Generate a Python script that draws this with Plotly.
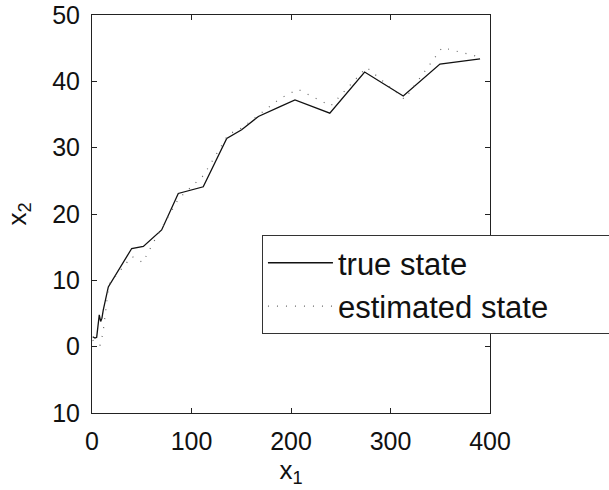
import plotly.graph_objects as go

# True trajectory of the state (x1, x2)
true_x1 = [0.7, 3, 4.7, 7.3, 8.7, 10, 11.3, 16.4, 39.9, 51.6, 70, 86.7, 111.8,
           135.4, 150.4, 167.2, 189, 204, 239, 274, 312.8, 349.7, 390]
true_x2 = [1.5, 1.3, 1.4, 4.8, 3.8, 4.3, 5.5, 9.0, 14.8, 15.1, 17.6, 23.1, 24.1,
           31.4, 32.7, 34.7, 36.2, 37.2, 35.2, 41.4, 37.8, 42.6, 43.4]

# Filter estimate of the same trajectory
est_x1 = [0.7, 4, 8, 11, 17, 40, 51, 62, 87, 112, 137, 151, 168, 189, 207,
          240, 276, 314, 352, 391]
est_x2 = [1.0, 0.4, 0.2, 2.0, 9.4, 13.6, 12.7, 15.8, 22.3, 25.8, 32.0, 33.0,
          35.0, 37.4, 38.8, 36.3, 42.1, 37.3, 45.1, 43.6]

x_ticks = [0, 100, 200, 300, 400]
x_tick_labels = ["0", "100", "200", "300", "400"]
y_ticks = [-10, 0, 10, 20, 30, 40, 50]
y_tick_labels = ["10", "0", "10", "20", "30", "40", "50"]

FONT = "Liberation Sans, Arial, Helvetica, sans-serif"

fig = go.Figure()
fig.add_trace(go.Scatter(
    x=true_x1, y=true_x2, mode="lines", name="true state",
    line=dict(color="#111111", width=1.3),
))
fig.add_trace(go.Scatter(
    x=est_x1, y=est_x2, mode="lines", name="estimated state",
    line=dict(color="#666666", width=1.2, dash="1px,8px"),
))

axis_common = dict(
    showline=True, linecolor="#222222", linewidth=1, mirror="ticks",
    ticks="inside", ticklen=5, tickcolor="#222222", showgrid=False,
    zeroline=False, tickfont=dict(family=FONT, size=25, color="#111111"),
)

fig.update_layout(
    width=609, height=490,
    margin=dict(l=92, r=119, t=15, b=77, autoexpand=False),
    paper_bgcolor="white", plot_bgcolor="white",
    font=dict(family=FONT, color="#111111"),
    xaxis=dict(
        range=[0, 400], tickvals=x_ticks, ticktext=x_tick_labels,
        title=dict(text="x<sub>1</sub>", font=dict(size=26), standoff=0),
        ticklabelstandoff=6, **axis_common,
    ),
    yaxis=dict(
        range=[-10, 50], tickvals=y_ticks, ticktext=y_tick_labels,
        title=dict(text="x<sub>2</sub>", font=dict(size=26), standoff=18),
        ticklabelstandoff=6, **axis_common,
    ),
    legend=dict(
        xref="paper", yref="paper", x=0.427, y=0.447,
        xanchor="left", yanchor="top", orientation="h",
        entrywidth=420, entrywidthmode="pixels",
        bgcolor="white", bordercolor="#333333", borderwidth=1,
        font=dict(family=FONT, size=31, color="#111111"),
        tracegroupgap=0, itemwidth=65,
    ),
    showlegend=True,
)

fig.write_html("out.html")
